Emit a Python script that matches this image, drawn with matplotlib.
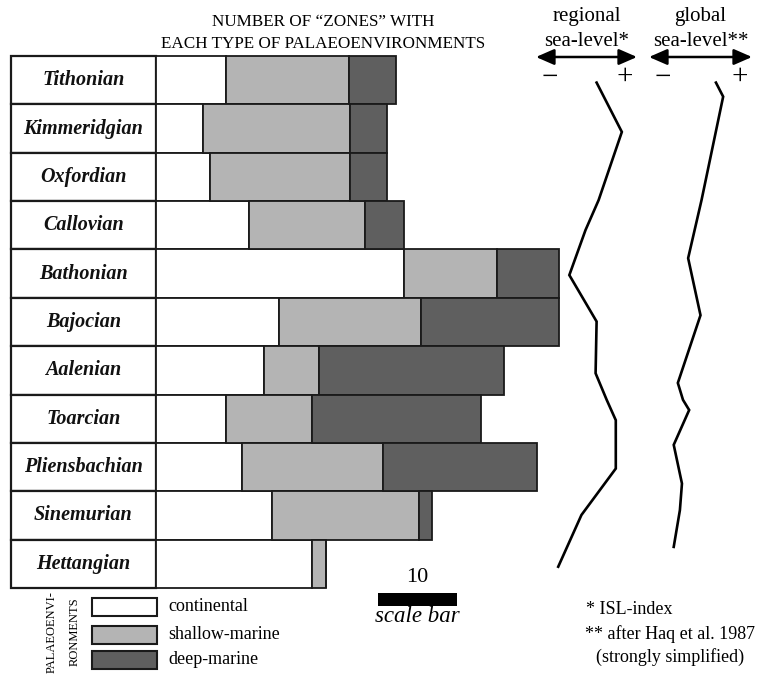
import matplotlib
matplotlib.use('Agg')
import matplotlib.pyplot as plt
from matplotlib.patches import Rectangle

# ---------------- data ----------------
stages = ['Tithonian', 'Kimmeridgian', 'Oxfordian', 'Callovian', 'Bathonian',
          'Bajocian', 'Aalenian', 'Toarcian', 'Pliensbachian', 'Sinemurian',
          'Hettangian']
continental = [8.8, 6.0, 6.8, 11.8, 31.4, 15.6, 13.7, 8.8, 10.9, 14.7, 19.7]
shallow = [15.6, 18.5, 17.7, 14.6, 11.8, 17.9, 6.9, 10.9, 17.8, 18.6, 1.8]
deep = [6.0, 4.7, 4.7, 5.0, 7.8, 17.5, 23.5, 21.5, 19.5, 1.6, 0.0]
legend_labels = ['continental', 'shallow-marine', 'deep-marine']
env_colors = ['#ffffff', '#b4b4b4', '#5f5f5f']
scale_bar_value = 10

# sea-level curves: level (0 = "-" end, 1 = "+" end), position in stage-row units
regional_level = [0.60, 0.85, 0.62, 0.49, 0.33, 0.60, 0.59, 0.70, 0.79, 0.79, 0.45, 0.22]
regional_pos = [0.55, 1.57, 2.98, 3.60, 4.53, 5.49, 6.56, 7.11, 7.53, 8.53, 9.49, 10.56]
global_level = [0.65, 0.72, 0.51, 0.38, 0.50, 0.28, 0.33, 0.39, 0.24, 0.32, 0.30, 0.24]
global_pos = [0.55, 0.84, 2.98, 4.18, 5.36, 6.76, 7.11, 7.32, 8.04, 8.84, 9.39, 10.15]

# ---------------- layout ----------------
W, H = 763, 677
plt.rcParams['font.family'] = ['Liberation Serif', 'DejaVu Serif']
fig = plt.figure(figsize=(W / 100, H / 100), dpi=100)


def fbox(x0, y0, x1, y1):
    return [x0 / W, 1 - y1 / H, (x1 - x0) / W, (y1 - y0) / H]


PX_PER_UNIT = 7.9
X_ORIGIN = 156
TABLE_LEFT, TABLE_TOP, TABLE_BOTTOM = 11, 56, 588
EDGE = '#1a1a1a'

ax = fig.add_axes(fbox(0, TABLE_TOP, W, TABLE_BOTTOM))
ax.set_xlim(-X_ORIGIN / PX_PER_UNIT, (W - X_ORIGIN) / PX_PER_UNIT)
ax.set_ylim(len(stages) - 0.5, -0.5)
ax.axis('off')

ypos = list(range(len(stages)))
name_w = (X_ORIGIN - TABLE_LEFT) / PX_PER_UNIT
ax.barh(ypos, [name_w] * len(stages), left=-name_w, height=1.0, color='white',
        edgecolor=EDGE, linewidth=1.6, clip_on=False)
for i, s in enumerate(stages):
    ax.text(-name_w / 2, i, s, ha='center', va='center', fontsize=14.5,
            fontweight='bold', fontstyle='italic', color='#111111')

left = [0.0] * len(stages)
for vals, col in zip([continental, shallow, deep], env_colors):
    ax.barh(ypos, vals, left=left, height=1.0, color=col, edgecolor=EDGE,
            linewidth=1.3, clip_on=False)
    left = [l + v for l, v in zip(left, vals)]

# sea-level curves
rax = fig.add_axes(fbox(536, TABLE_TOP, 637, TABLE_BOTTOM))
rax.set_xlim(0, 1)
rax.set_ylim(len(stages), 0)
rax.axis('off')
rax.plot(regional_level, regional_pos, color='black', lw=1.9, solid_joinstyle='miter',
         clip_on=False)

gax = fig.add_axes(fbox(649, TABLE_TOP, 752, TABLE_BOTTOM))
gax.set_xlim(0, 1)
gax.set_ylim(len(stages), 0)
gax.axis('off')
gax.plot(global_level, global_pos, color='black', lw=1.9, solid_joinstyle='miter',
         clip_on=False)

# overlay in pixel coordinates for annotations
ov = fig.add_axes([0, 0, 1, 1])
ov.set_xlim(0, W)
ov.set_ylim(H, 0)
ov.axis('off')
ov.patch.set_alpha(0)

ov.text(323, 22, 'NUMBER OF \u201cZONES\u201d WITH', ha='center', va='center', fontsize=12.3)
ov.text(323, 44, 'EACH TYPE OF PALAEOENVIRONMENTS', ha='center', va='center', fontsize=12.3)

for cx, a0, a1, l1, l2 in [(586.5, 536, 637, 'regional', 'sea-level*'),
                           (700.5, 649, 752, 'global', 'sea-level**')]:
    ov.text(cx, 17, l1, ha='center', va='center', fontsize=15)
    ov.text(cx, 42, l2, ha='center', va='center', fontsize=15)
    ov.annotate('', xy=(a1, 57), xytext=(a0, 57),
                arrowprops=dict(arrowstyle='<|-|>,head_length=1.1,head_width=0.48',
                                lw=1.8, color='black', shrinkA=0, shrinkB=0,
                                mutation_scale=10))
    ov.text(a0 + 14, 78, '\u2212', ha='center', va='center', fontsize=21)
    ov.text(a1 - 12, 77, '+', ha='center', va='center', fontsize=21)

# scale bar
ov.text(417, 577, str(scale_bar_value), ha='center', va='center', fontsize=16)
ov.add_patch(Rectangle((377.7, 593), scale_bar_value * PX_PER_UNIT, 12.5,
                       facecolor='black', edgecolor='none'))
ov.text(417, 617, 'scale bar', ha='center', va='center', fontsize=16.5,
        fontstyle='italic')

# legend
box_y = [598, 626, 651]
for yy, lab, col in zip(box_y, legend_labels, env_colors):
    ov.add_patch(Rectangle((92, yy), 65, 17.5, facecolor=col, edgecolor=EDGE, lw=1.5))
    ov.text(168, yy + 8.5, lab, ha='left', va='center', fontsize=13)
ov.text(52, 591, 'PALAEOENVI-', rotation=90, ha='center', va='top', fontsize=9)
ov.text(75, 597, 'RONMENTS', rotation=90, ha='center', va='top', fontsize=9)

# footnotes
ov.text(586, 610, '* ISL-index', ha='left', va='center', fontsize=13)
ov.text(585, 634, '** after Haq et al. 1987', ha='left', va='center', fontsize=13)
ov.text(596, 657, '(strongly simplified)', ha='left', va='center', fontsize=13)

fig.savefig('out.png', dpi=100)
